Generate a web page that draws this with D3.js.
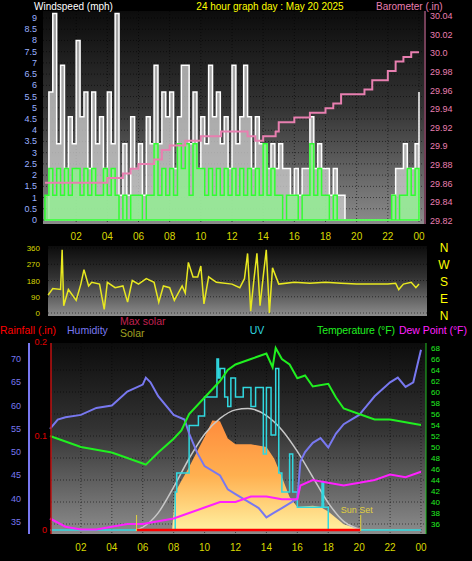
<!DOCTYPE html>
<html><head><meta charset="utf-8">
<script src="https://cdn.jsdelivr.net/npm/d3@7"></script>
<style>body{margin:0;background:#000}svg{display:block;font-family:"Liberation Sans",Arial,sans-serif}</style>
</head><body>
<script>
// Datos (horas 0..24)
var hourTicks = [2,4,6,8,10,12,14,16,18,20,22,24]
var windTicks = [0,0.5,1,1.5,2,2.5,3,3.5,4,4.5,5,5.5,6,6.5,7,7.5,8,8.5,9]
var baroTicks = [29.82,29.84,29.86,29.88,29.9,29.92,29.94,29.96,29.98,30,30.02,30.04]
// cada 15 min
var gust = [0,5.7,9.2,3.4, 6.9,2.3,4.6,3.4, 8.0,4.6,5.7,2.3, 5.7,3.4,4.6,2.3, 5.7,3.4,9.2,1.1, 3.4,1.1,4.6,2.3,
  3.4,1.1,4.6,3.4, 6.9,3.4,5.7,4.6, 5.7,2.3,4.6,6.9, 6.9,3.4,5.7,2.3, 4.6,3.4,6.9,4.6, 5.7,3.4,4.6,2.3,
  6.9,3.4,4.6,6.9, 4.6,2.3,4.6,3.4, 3.4,2.3,3.4,2.3, 3.4,2.3,2.3,1.1, 2.3,1.1,2.3,2.3, 4.6,2.3,3.4,2.3,
  2.3,1.1,2.3,1.1, 1.1,0,0,0, 0,0,0,0, 0,0,0,0, 0,1.1,2.3,2.3, 3.4,2.3,2.3,3.4, 5.7]
var speed = [1.1,2.3,1.1,2.3, 1.1,2.3,1.1,2.3, 2.3,1.1,2.3,1.1, 2.3,1.1,1.1,2.3, 1.1,2.3,1.1,0, 1.1,0,1.1,1.1,
  1.1,0,1.1,1.1, 3.4,1.1,2.3,1.1, 2.3,1.1,3.4,2.3, 3.4,1.1,3.4,2.3, 2.3,1.1,2.3,1.1, 2.3,1.1,2.3,1.1,
  2.3,1.1,2.3,1.1, 2.3,1.1,2.3,1.1, 3.4,1.1,2.3,1.1, 1.1,0,1.1,1.1, 1.1,0,1.1,1.1, 3.4,1.1,2.3,1.1,
  1.1,0,1.1,0, 0,0,0,0, 0,0,0,0, 0,0,0,0, 0,1.1,0,1.1, 1.1,2.3,1.1,2.3, 2.3]
var baroH = [0,1,2,3,4,5,5.5,6,7,7.5,8,9,10,11,11.3,12,13,13.5,14,14.8,15,16,17,18,18.5,19,20,20.5,21,22,22.5,23,23.5,24]
var baro = [29.86,29.86,29.86,29.86,29.865,29.87,29.875,29.88,29.885,29.895,29.90,29.905,29.91,29.91,29.915,29.915,29.91,29.905,29.91,29.915,29.925,29.93,29.935,29.94,29.945,29.955,29.955,29.96,29.97,29.98,29.99,29.995,30.0,30.0]
var dirH = [0.2,0.5,1,1.1,1.2,1.5,2,2.3,2.5,2.8,3,3.5,3.8,4,4.5,5,5.3,5.6,6,6.5,7,7.3,7.6,8,8.3,8.8,9,9.2,9.5,9.8,10,10.2,10.5,11,12,12.5,12.8,13,13.2,13.4,13.6,13.8,14,14.2,14.4,14.6,15,16,17,18,19,20,21,22,22.5,22.7,23,23.5,23.8,24]
var dir = [100,135,130,350,40,130,70,160,240,150,170,160,20,170,140,150,60,180,160,190,170,60,150,140,70,150,110,280,200,200,260,50,200,170,160,140,190,330,10,180,330,40,200,350,0,250,160,170,165,170,165,160,160,160,165,130,160,170,140,160]
var dirTicks = [0,90,180,270,360]
var compass = ["N","W","S","E","N"]

var humTicks = [35,40,45,50,55,60,65,70]
var tempTicks = [36,38,40,42,44,46,48,50,52,54,56,58,60,62,64,66,68]
var rainTicks = [0,0.1,0.2]
var tH = [0,1,2,3,4,5,6,6.2,7,8,8.5,9,10,11,11.5,12,13,14,14.4,14.6,15,15.5,16,16.5,17,18,18.5,19,20,20.5,21,22,23,24]
var temp = [52,51,50,49.5,49,48,47,46.8,49,51.5,53,56,59,62,64,65,66,67,64.5,68,66,65,62.5,63,61,61.5,59,57,56,55.5,55,55,54.5,54]
var hH = [0,0.5,1,2,3,4,5,6,6.2,6.5,7,8,8.7,9,9.5,10,11,11.5,12,13,13.5,14,14.5,15,15.5,16,16.2,16.5,17,17.5,18,18.5,19,20,20.5,21,22,22.5,23,23.5,24]
var hum = [55,57,57.5,58,59.5,60,63,64.5,66,65,62,58,57,54,50,47,45,42,41,39,38,36,37,38,39,40,48,50,52,53,51,54,56,58,60,62,65,66,64,65,72]
var dH = [0,1,2,3,4,5,6,7,8,9,10,11,12,13,14,15,16,16.2,17,18,19,20,21,22,23,24]
var dew = [37,35.5,35,35,35.5,36,36,36.5,37,38,39,40,40,41,41,40.5,40.5,43,44,43.5,43,43.5,44,45,44.5,45.5]
var sH = [0,7.9,8.1,9,10,10.5,11,11.5,12,13,14,14.5,15,15.5,16,17,17.5,18,19,20,24]
var solar = [0,0,265,440,650,765,760,640,600,600,580,500,370,230,160,170,160,130,40,5,0]
var mH = [5.5,6,7,8,9,10,11,12,12.8,13,14,15,16,17,18,19,20,20.1]
var maxSolar = [0,20,120,300,500,670,780,840,850,848,800,700,550,370,190,60,5,0]
var uvH = [0,8.1,8.2,9,9.6,10,10.8,10.9,11,11.3,11.5,11.7,12,12.5,13,13.3,13.8,14,14.3,14.6,14.8,15,15.5,15.7,16,17,17.6,17.7,18,24]
var uv = [0,2,3,5.5,6,7,9,8,8.5,7,6.5,8,7,7.5,6.5,7.5,4,7.5,5,8.5,3,2,4,2,1.2,1.2,2.5,1.2,0,0]
var sunrise = 5.6, sunset = 20.1

var W = 472, H = 561
var svg = d3.select("body").append("svg").attr("width", W).attr("height", H)
var defs = svg.append("defs")
function grad(id, stops) {
  var g = defs.append("linearGradient").attr("id", id).attr("x1",0).attr("y1",0).attr("x2",0).attr("y2",1)
  stops.forEach(s => g.append("stop").attr("offset", s[0]).attr("stop-color", s[1]))
}
grad("bg", [[0,"#0c0c0c"],[0.45,"#333"],[1,"#8c8c8c"]])
grad("sol", [[0,"#ff8c3c"],[0.5,"#ffb050"],[1,"#fff0a0"]])
var fmtH = h => d3.format("02")(h % 24)
function panel(x0, x1, y0, y1) {
  svg.append("rect").attr("x", x0).attr("y", y0).attr("width", x1-x0).attr("height", y1-y0).attr("fill", "url(#bg)")
}
function grid(x, y, xs, ys, x0, x1, y0, y1) {
  var g = svg.append("g").attr("stroke", "#000").attr("stroke-opacity", 0.55).attr("stroke-dasharray", "1,2")
  xs.forEach(v => g.append("line").attr("x1", x(v)).attr("x2", x(v)).attr("y1", y0).attr("y2", y1))
  ys.forEach(v => g.append("line").attr("x1", x0).attr("x2", x1).attr("y1", y(v)).attr("y2", y(v)))
}
function text(x, y, s, c, size, anchor) {
  return svg.append("text").attr("x", x).attr("y", y).text(s).attr("fill", c)
    .attr("font-size", size).attr("text-anchor", anchor || "start")
}

// ---- Panel viento / barómetro
var x1 = d3.scaleLinear().domain([0,24]).range([45,419])
var yW = d3.scaleLinear().domain([0,9]).range([220,18])
var yB = d3.scaleLinear().domain([29.82,30.04]).range([220,15])
panel(43, 424, 11, 224)
grid(x1, yW, hourTicks, windTicks, 43, 424, 11, 224)
var q = d3.range(97).map(i => i/4)
svg.append("path").datum(q).attr("fill", "#c8c8c8").attr("fill-opacity", 0.8).attr("stroke", "#fff").attr("stroke-width", 1.5)
  .attr("d", d3.area().curve(d3.curveStepAfter).x(d => x1(d)).y0(yW(0)).y1((d,i) => yW(gust[i])))
svg.append("path").datum(q).attr("fill", "#90f090").attr("fill-opacity", 0.8).attr("stroke", "#30ff30").attr("stroke-width", 1.5)
  .attr("d", d3.area().curve(d3.curveStepAfter).x(d => x1(d)).y0(yW(0)).y1((d,i) => yW(speed[i])))
svg.append("path").datum(baroH).attr("fill", "none").attr("stroke", "#e87fb0").attr("stroke-width", 2)
  .attr("d", d3.line().curve(d3.curveStepAfter).x(d => x1(d)).y((d,i) => yB(baro[i])))
windTicks.forEach(v => text(37, yW(v)+3, v, "#9ab0ff", 9, "end"))
baroTicks.forEach(v => text(430, yB(v)+4, d3.format(".2f")(v).replace(/0$/, ""), "#e87fb0", 9))
svg.append("line").attr("x1", 425).attr("x2", 425).attr("y1", 11).attr("y2", 224).attr("stroke", "#e87fb0")
hourTicks.forEach(v => text(x1(v), 240, fmtH(v), "#d8d800", 10, "middle"))
text(34, 10, "Windspeed (mph)", "#fff", 10)
text(270, 10, "24 hour graph day : May 20 2025", "#ffff00", 10, "middle")
text(376, 10, "Barometer (.in)", "#e87fb0", 10)

// ---- Panel dirección
var yD = d3.scaleLinear().domain([0,360]).range([313,248])
panel(48, 427, 246, 316)
grid(x1, yD, [], dirTicks, 48, 427, 246, 316)
svg.append("path").datum(dirH).attr("fill", "none").attr("stroke", "#e8e820").attr("stroke-width", 1.5)
  .attr("d", d3.line().x(d => x1(d)).y((d,i) => yD(dir[i])))
dirTicks.forEach(v => text(40, yD(v)+3, v, "#d8d800", 8, "end"))
compass.forEach((c,i) => text(444, 252+i*17, c, "#ffff00", 12, "middle"))

// ---- Panel inferior
var x3 = d3.scaleLinear().domain([0,24]).range([50,421])
var yH = d3.scaleLinear().domain([35,70]).range([522,359])
var yT = d3.scaleLinear().domain([36,68]).range([524,348])
var yR = d3.scaleLinear().domain([0,0.2]).range([530,342])
var yS = d3.scaleLinear().domain([0,1000]).range([530,387])
var yU = d3.scaleLinear().domain([0,10]).range([530,340])
panel(51, 426, 343, 534)
grid(x3, yT, hourTicks, tempTicks.filter((d,i) => i%2==0), 51, 426, 343, 534)
svg.append("path").datum(sH).attr("fill", "url(#sol)")
  .attr("d", d3.area().x(d => x3(d)).y0(yS(0)).y1((d,i) => yS(solar[i])))
svg.append("path").datum(mH).attr("fill", "none").attr("stroke", "#c8c8c8").attr("stroke-width", 1.5)
  .attr("d", d3.line().curve(d3.curveMonotoneX).x(d => x3(d)).y((d,i) => yS(maxSolar[i])))
svg.append("path").datum(uvH).attr("fill", "none").attr("stroke", "#30d8e0").attr("stroke-width", 1.5)
  .attr("d", d3.line().curve(d3.curveStepAfter).x(d => x3(d)).y((d,i) => yU(uv[i])))
svg.append("path").datum(hH).attr("fill", "none").attr("stroke", "#7878f0").attr("stroke-width", 2)
  .attr("d", d3.line().x(d => x3(d)).y((d,i) => yH(hum[i])))
svg.append("path").datum(tH).attr("fill", "none").attr("stroke", "#20f020").attr("stroke-width", 2)
  .attr("d", d3.line().x(d => x3(d)).y((d,i) => yT(temp[i])))
svg.append("path").datum(dH).attr("fill", "none").attr("stroke", "#ff20ff").attr("stroke-width", 2)
  .attr("d", d3.line().x(d => x3(d)).y((d,i) => yT(dew[i])))
svg.append("line").attr("x1", x3(sunrise)).attr("x2", x3(sunset)).attr("y1", yR(0)).attr("y2", yR(0)).attr("stroke", "#ff0000").attr("stroke-width", 2.5)
;[sunrise, sunset].forEach(v => svg.append("line").attr("x1", x3(v)).attr("x2", x3(v)).attr("y1", 515).attr("y2", 531).attr("stroke", "#e0d040"))
text(x3(sunset)-4, 513, "Sun Set", "#e0d040", 9, "middle")
svg.append("line").attr("x1", 29).attr("x2", 29).attr("y1", 343).attr("y2", 534).attr("stroke", "#7878f0").attr("stroke-width", 2)
svg.append("line").attr("x1", 51).attr("x2", 51).attr("y1", 343).attr("y2", 534).attr("stroke", "#c01010").attr("stroke-width", 1.5)
svg.append("line").attr("x1", 426).attr("x2", 426).attr("y1", 343).attr("y2", 534).attr("stroke", "#20c020").attr("stroke-width", 1)
humTicks.forEach(v => text(21, yH(v)+3, v, "#7878f0", 9, "end"))
rainTicks.forEach(v => text(47, yR(v)+3, v, "#e00000", 9, "end"))
tempTicks.forEach(v => text(431, yT(v)+3, v, "#20f020", 8))
hourTicks.forEach(v => text(x3(v), 551, fmtH(v), "#d8d800", 10, "middle"))
text(0, 334, "Rainfall (.in)", "#ff0000", 10.5)
text(67, 334, "Humidity", "#7878f0", 10.5)
text(120, 325, "Max solar", "#c02050", 10.5)
text(120, 337, "Solar", "#a0a020", 10.5)
text(257, 334, "UV", "#30d8e0", 10.5, "middle")
text(317, 334, "Temperature (°F)", "#20f020", 10.5).attr("textLength", 78)
text(399, 334, "Dew Point (°F)", "#ff20ff", 10.5).attr("textLength", 68)
</script>
</body></html>
